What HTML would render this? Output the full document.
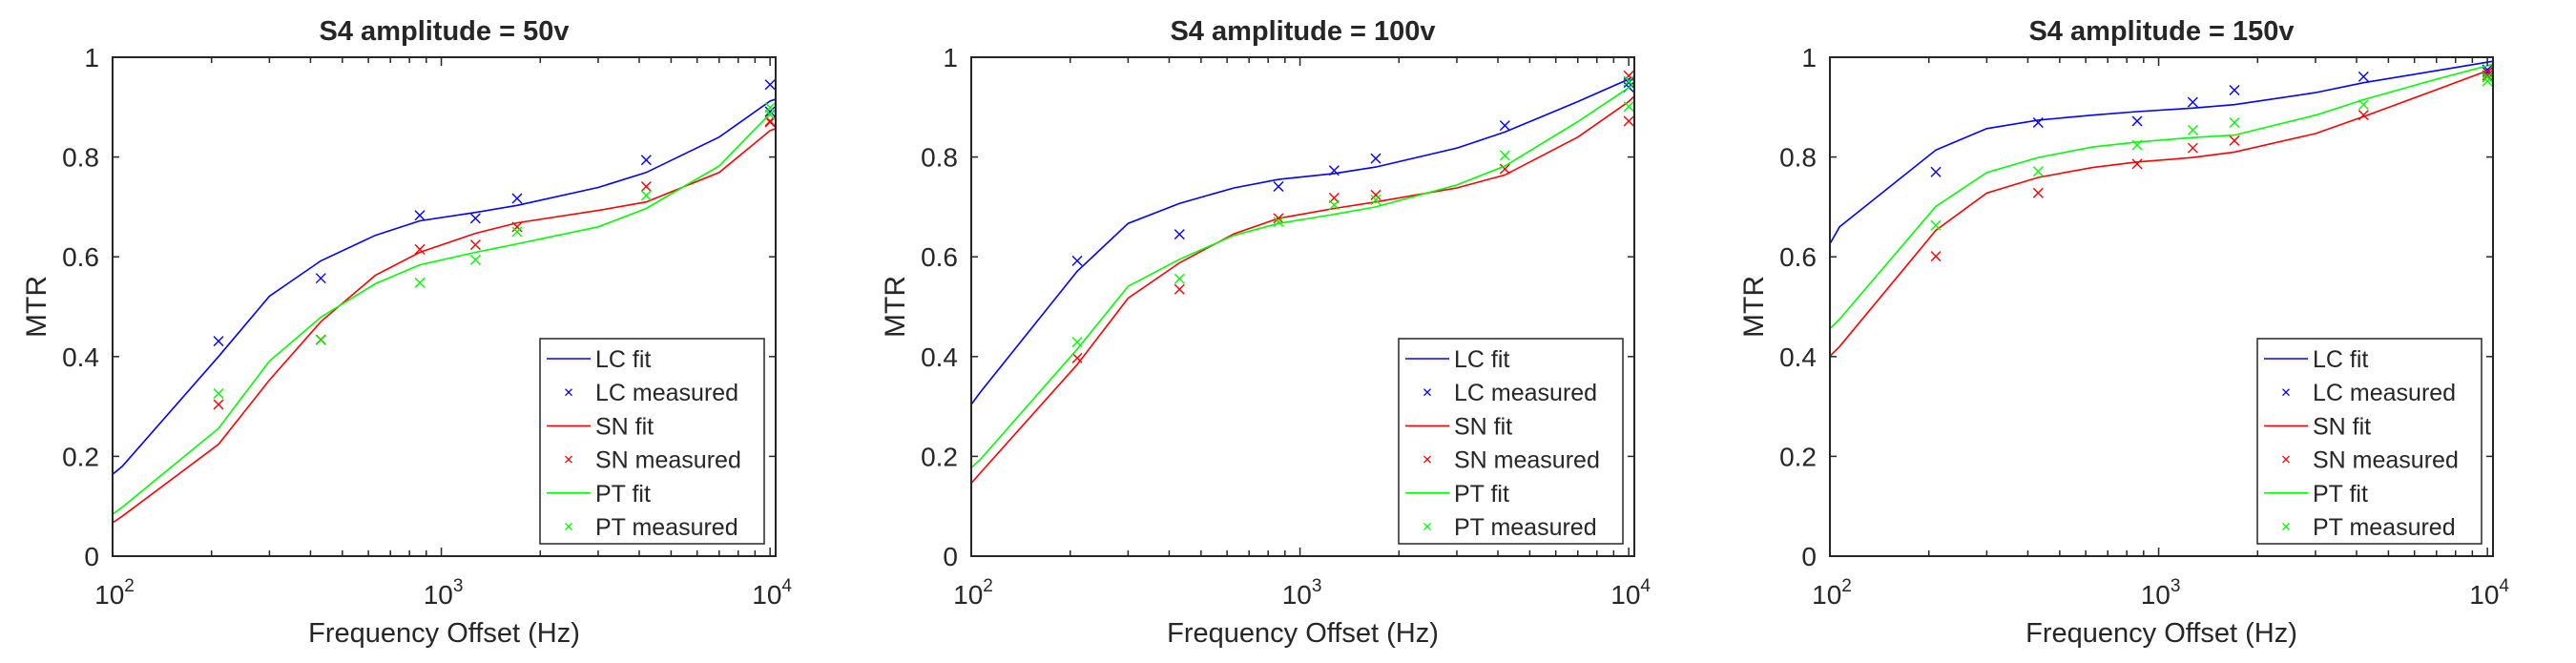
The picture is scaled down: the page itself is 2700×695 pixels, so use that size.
<!DOCTYPE html>
<html><head><meta charset="utf-8"><style>
html,body{margin:0;padding:0;background:#fff;}
svg text{font-family:"Liberation Sans",sans-serif;fill:#262626;}
</style></head><body>
<svg id="fig" width="2700" height="690" xmlns="http://www.w3.org/2000/svg"></svg>
<script>
const titles = ["S4 amplitude = 50v","S4 amplitude = 100v","S4 amplitude = 150v"];
const fitFreqs = [100,107,210,300,430,630,860,1270,1700,3000,4200,7000,10000,10400];
const measFreqs = [210,430,860,1270,1700,4200,10000,10000];
const lcFit = [
 [0.164,0.18,0.40,0.521,0.592,0.643,0.672,0.689,0.703,0.739,0.769,0.84,0.912,0.916],
 [0.304,0.33,0.571,0.667,0.707,0.738,0.755,0.767,0.78,0.818,0.85,0.911,0.956,0.961],
 [0.626,0.66,0.814,0.857,0.874,0.884,0.891,0.898,0.905,0.929,0.949,0.973,0.99,0.992]];
const snFit = [
 [0.067,0.08,0.224,0.353,0.47,0.563,0.609,0.647,0.668,0.693,0.71,0.769,0.853,0.857],
 [0.146,0.168,0.384,0.517,0.588,0.646,0.677,0.697,0.71,0.738,0.764,0.84,0.911,0.922],
 [0.401,0.42,0.653,0.728,0.759,0.779,0.79,0.799,0.81,0.847,0.881,0.935,0.973,0.978]];
const ptFit = [
 [0.084,0.098,0.256,0.391,0.479,0.546,0.584,0.609,0.626,0.66,0.697,0.782,0.887,0.893],
 [0.177,0.195,0.415,0.541,0.595,0.643,0.667,0.685,0.70,0.744,0.782,0.871,0.939,0.946],
 [0.456,0.475,0.701,0.769,0.799,0.82,0.83,0.839,0.844,0.884,0.915,0.956,0.983,0.986]];
const lcMeas = [
 [0.431,0.557,0.683,0.677,0.717,0.794,0.945,0.891],
 [0.592,0.645,0.741,0.773,0.797,0.863,0.949,0.94],
 [0.77,0.869,0.872,0.91,0.934,0.961,0.975,0.97]];
const snMeas = [
 [0.304,0.434,0.615,0.624,0.66,0.741,0.87,0.872],
 [0.397,0.535,0.677,0.718,0.724,0.776,0.872,0.963],
 [0.601,0.728,0.786,0.818,0.833,0.884,0.964,0.96]];
const ptMeas = [
 [0.326,0.433,0.548,0.594,0.65,0.723,0.899,0.885],
 [0.429,0.556,0.67,0.704,0.714,0.803,0.901,0.952],
 [0.663,0.771,0.824,0.854,0.869,0.905,0.952,0.96]];
const yTicks = [0,0.2,0.4,0.6,0.8,1];
const yTickLabels = ["0","0.2","0.4","0.6","0.8","1"];
const xMajor = [100,1000,10000];
const xMajorExp = ["2","3","4"];
const legendLabels = ["LC fit","LC measured","SN fit","SN measured","PT fit","PT measured"];

const NS="http://www.w3.org/2000/svg";
const svg=document.getElementById('fig');
function mk(tag,attrs,parent){const e=document.createElementNS(NS,tag);for(const k in attrs)e.setAttribute(k,attrs[k]);(parent||svg).appendChild(e);return e;}
const lefts=[118,1018,1918], AW=695, TOP=60, BOT=583;
const XMIN=Math.log10(100), XMAX=Math.log10(10400);
const colors={lc:"#0000ff",sn:"#ff0000",pt:"#00ff00"};

for(let p=0;p<3;p++){
  const L=lefts[p], R=L+AW;
  const xs=f=>L+(Math.log10(f)-XMIN)/(XMAX-XMIN)*AW;
  const ys=v=>BOT-v*(BOT-TOP);
  const g=mk('g',{});
  
  
  const t=mk('text',{x:L+AW/2,y:42,'text-anchor':'middle','font-size':29,'font-weight':'bold',fill:'#000'},g);
  t.textContent=titles[p];
  
  
  const series=[[lcFit,lcMeas,'lc'],[snFit,snMeas,'sn'],[ptFit,ptMeas,'pt']];
  for(const [fit,meas,key] of series){
    let d='';
    fitFreqs.forEach((f,i)=>{d+=(i?'L':'M')+xs(f).toFixed(1)+' '+ys(fit[p][i]).toFixed(1);});
    const pl=mk('path',{d:d,fill:'none',stroke:colors[key],'stroke-width':1.6},g);
    
    
    measFreqs.forEach((f,i)=>{
      const cx=xs(f), cy=ys(meas[p][i]), s=5;
      const m=mk('path',{d:`M${cx-s} ${cy-s}L${cx+s} ${cy+s}M${cx-s} ${cy+s}L${cx+s} ${cy-s}`,stroke:colors[key],'stroke-width':1.4,fill:'none'},g);
      
      
    });
  }
  const box=mk('rect',{x:L,y:TOP,width:AW,height:BOT-TOP,fill:'none',stroke:'#262626','stroke-width':2},g);
  
  
  yTicks.forEach((v,i)=>{
    const y=ys(v);
    mk('line',{x1:L,x2:L+7,y1:y,y2:y,stroke:'#262626','stroke-width':1.5},g);
    mk('line',{x1:R,x2:R-7,y1:y,y2:y,stroke:'#262626','stroke-width':1.5},g);
    const tl=mk('text',{x:L-14,y:y+10,'text-anchor':'end','font-size':28},g);
    tl.textContent=yTickLabels[i];
    
    
  });
  for(let dec=100;dec<=10000;dec*=10){
    for(let k=1;k<10;k++){
      const f=dec*k; if(f>10400) break;
      const x=xs(f), len=(k===1)?9:6;
      mk('line',{x1:x,x2:x,y1:BOT,y2:BOT-len,stroke:'#262626','stroke-width':1.5},g);
      mk('line',{x1:x,x2:x,y1:TOP,y2:TOP+len,stroke:'#262626','stroke-width':1.5},g);
    }
  }
  xMajor.forEach((f,i)=>{
    const x=xs(f);
    const tl=mk('text',{x:x+2,y:633,'text-anchor':'middle','font-size':28},g);
    tl.textContent='10';
    const sup=mk('tspan',{dy:-13,'font-size':19},tl);
    sup.textContent=xMajorExp[i];
    
    
  });
  const xl=mk('text',{x:L+AW/2,y:673,'text-anchor':'middle','font-size':29},g);
  xl.textContent='Frequency Offset (Hz)';
  
  
  const yl=mk('text',{x:0,y:0,'text-anchor':'middle','font-size':30,transform:`translate(${L-70},${(TOP+BOT)/2}) rotate(-90)`},g);
  yl.textContent='MTR';
  
  
  const lg=mk('g',{},g);
  
  
  const LX=L+448, LY=355;
  mk('rect',{x:LX,y:LY,width:235,height:215,fill:'#fff',stroke:'#262626','stroke-width':1.5},lg);
  const keys=['lc','lc','sn','sn','pt','pt'];
  legendLabels.forEach((lab,i)=>{
    const cy=LY+21+i*35.2;
    const ent=mk('g',{},lg);
    
    
    if(i%2===0){
      mk('line',{x1:LX+7,x2:LX+53,y1:cy,y2:cy,stroke:colors[keys[i]],'stroke-width':1.6},ent);
    } else {
      const cx=LX+30,s=3.5;
      mk('path',{d:`M${cx-s} ${cy-s}L${cx+s} ${cy+s}M${cx-s} ${cy+s}L${cx+s} ${cy-s}`,stroke:colors[keys[i]],'stroke-width':1.3,fill:'none'},ent);
    }
    const tx=mk('text',{x:LX+58,y:cy+9,'font-size':25,fill:'#000'},ent);
    tx.textContent=lab;
  });
}
</script>
</body></html>
